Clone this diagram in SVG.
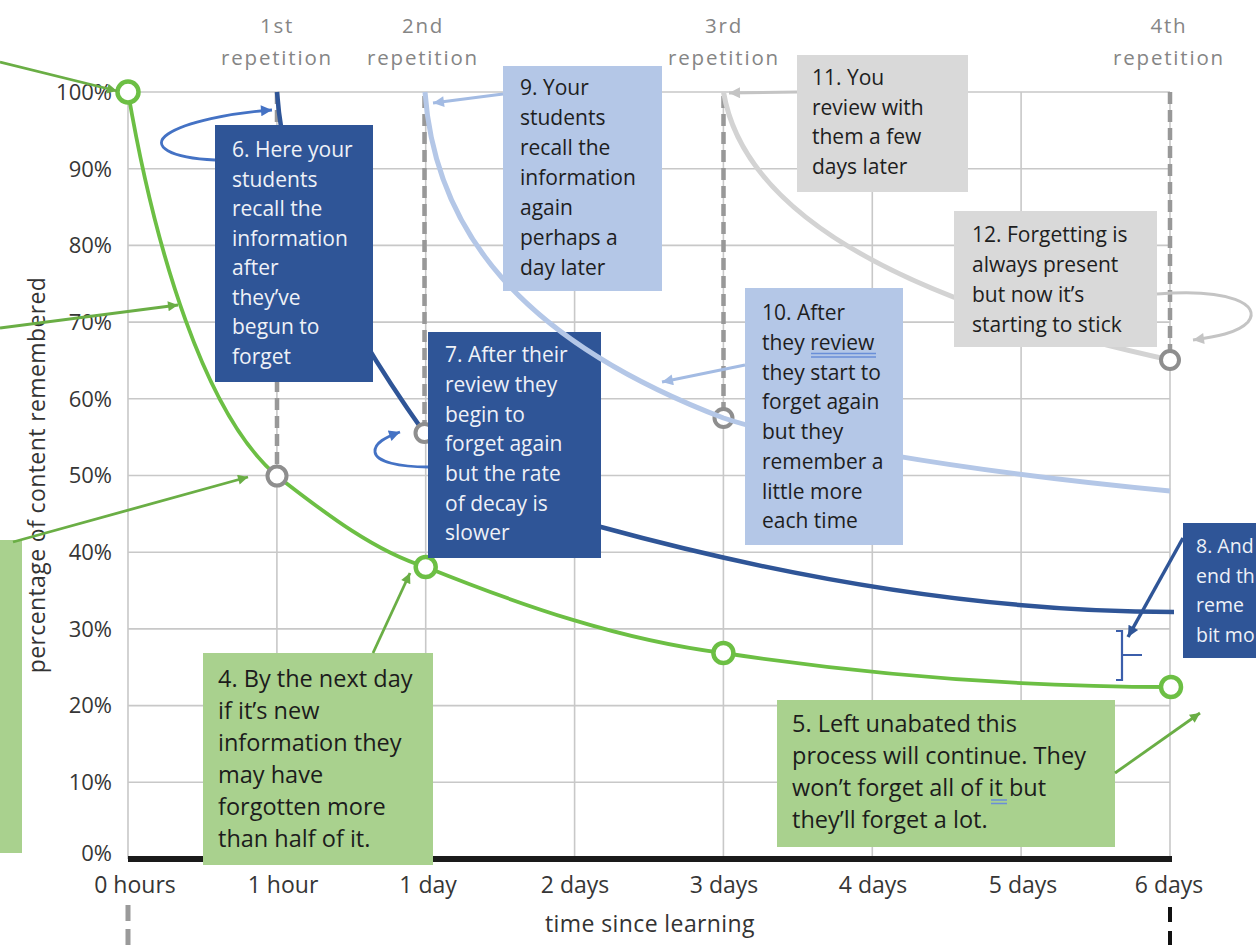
<svg xmlns="http://www.w3.org/2000/svg" width="1256" height="951" viewBox="0 0 1256 951">
<style>
.f{font-family:"Open Sans","Noto Sans","DejaVu Sans",sans-serif}
.grid{stroke:#c8c8c8;stroke-width:1.6;fill:none}
.rep{stroke:#989898;stroke-width:4.5;stroke-dasharray:12 6;fill:none}
.yl{font-size:22px;fill:#363636;text-anchor:end}
.xl{font-size:23px;fill:#363636;text-anchor:middle}
.rl{font-size:20.5px;fill:#858585;text-anchor:middle;letter-spacing:1.8px}
.ttl{font-size:23px;fill:#333;text-anchor:middle;letter-spacing:0.4px}
.bt{font-size:21px}
.bg{font-size:23.5px}
.b8{font-size:19.5px}
.dk rect{fill:#2f5597}.dk text{fill:#eef1f7}
.lb rect{fill:#b4c7e7}.lb text{fill:#1e1e1e}
.gy rect{fill:#d9d9d9}.gy text{fill:#1e1e1e}
.gn rect{fill:#a9d18e}.gn text{fill:#1c1c1c}
.cg{fill:#fff;stroke:#6cbf44;stroke-width:4.5}
.cy{fill:#fff;stroke:#8e8e8e;stroke-width:4}
.con path{fill:none}
.ag{stroke:#6aae45;stroke-width:2.8}
.ab{stroke:#4472c4;stroke-width:2.8}
.al{stroke:#a3bbe3;stroke-width:3}
.agr{stroke:#c4c4c4;stroke-width:3}
.ad{stroke:#2f5597;stroke-width:3.5}
.ul{stroke:#6a8fd8;stroke-width:1.3}
</style>
<defs>
<marker id="mg" viewBox="0 0 10 10" refX="10" refY="5" markerUnits="userSpaceOnUse" markerWidth="14" markerHeight="10" orient="auto"><path d="M0,0 L10,5 L0,10 z" fill="#6aae45"/></marker>
<marker id="mb" viewBox="0 0 10 10" refX="10" refY="5" markerUnits="userSpaceOnUse" markerWidth="14" markerHeight="11" orient="auto"><path d="M0,0 L10,5 L0,10 z" fill="#4472c4"/></marker>
<marker id="ml" viewBox="0 0 10 10" refX="10" refY="5" markerUnits="userSpaceOnUse" markerWidth="15" markerHeight="11" orient="auto"><path d="M0,0 L10,5 L0,10 z" fill="#a3bbe3"/></marker>
<marker id="mgr" viewBox="0 0 10 10" refX="10" refY="5" markerUnits="userSpaceOnUse" markerWidth="15" markerHeight="11" orient="auto"><path d="M0,0 L10,5 L0,10 z" fill="#c4c4c4"/></marker>
<marker id="md" viewBox="0 0 10 10" refX="10" refY="5" markerUnits="userSpaceOnUse" markerWidth="15" markerHeight="11" orient="auto"><path d="M0,0 L10,5 L0,10 z" fill="#2f5597"/></marker>
</defs>
<rect width="1256" height="951" fill="#fff"/>

<g id="grid" class="grid">
<path d="M128,92H1170M128,168.7H1170M128,245.4H1170M128,322.1H1170M128,398.8H1170M128,475.5H1170M128,552.2H1170M128,628.9H1170M128,705.6H1170M128,782.3H1170"/>
<path d="M128,92V859M276.9,92V859M425.7,92V859M574.6,92V859M723.4,92V859M872.3,92V859M1021.1,92V859M1170,92V859"/>
</g>

<g id="repetition-lines" class="rep">
<path d="M277,92V476M424.5,96V433M723.5,96V418M1170,92V360"/>
</g>

<g id="axis-labels" class="f">
<text class="yl" x="112" y="100">100%</text>
<text class="yl" x="112" y="177">90%</text>
<text class="yl" x="112" y="253">80%</text>
<text class="yl" x="112" y="330">70%</text>
<text class="yl" x="112" y="407">60%</text>
<text class="yl" x="112" y="483">50%</text>
<text class="yl" x="112" y="560">40%</text>
<text class="yl" x="112" y="637">30%</text>
<text class="yl" x="112" y="713">20%</text>
<text class="yl" x="112" y="790">10%</text>
<text class="yl" x="112" y="861">0%</text>
<text class="xl" x="135" y="893">0 hours</text>
<text class="xl" x="283" y="893">1 hour</text>
<text class="xl" x="428" y="893">1 day</text>
<text class="xl" x="575" y="893">2 days</text>
<text class="xl" x="724" y="893">3 days</text>
<text class="xl" x="873" y="893">4 days</text>
<text class="xl" x="1023" y="893">5 days</text>
<text class="xl" x="1169" y="893">6 days</text>
<text class="ttl" x="650" y="932">time since learning</text>
<text class="ttl" transform="translate(45,475) rotate(-90)">percentage of content remembered</text>
<text class="rl" x="277" y="33">1st</text>
<text class="rl" x="277" y="65">repetition</text>
<text class="rl" x="423" y="33">2nd</text>
<text class="rl" x="423" y="65">repetition</text>
<text class="rl" x="724" y="33">3rd</text>
<text class="rl" x="724" y="65">repetition</text>
<text class="rl" x="1169" y="33">4th</text>
<text class="rl" x="1169" y="65">repetition</text>
</g>

<g id="bottom-markers">
<path d="M128,905V945" stroke="#9a9a9a" stroke-width="5" stroke-dasharray="16 8"/>
<path d="M1170,907V945" stroke="#111" stroke-width="4" stroke-dasharray="15 9"/>
</g>

<g id="green-curve">
<path d="M128,92 C155,250 205,415 277,476 C315,505 370,550 425.7,567 C520,605 620,640 723.4,653 C850,672 1000,687 1171,687" fill="none" stroke="#6cbf44" stroke-width="3.8"/>
</g>

<g id="dark-blue-curve">
<path d="M277,92 C285,200 330,300 424.5,433 C470,470 520,500 601,527 C740,565 950,612 1174,612" fill="none" stroke="#2f5597" stroke-width="4.5"/>
</g>

<g id="markers">
<circle class="cg" cx="128" cy="92" r="10.5"/>
<circle class="cg" cx="425.7" cy="567" r="10"/>
<circle class="cg" cx="723.4" cy="653" r="10"/>
<circle class="cg" cx="1171" cy="687" r="10"/>
<circle class="cy" cx="277" cy="476" r="9.5"/>
<circle class="cy" cx="424.5" cy="433" r="9"/>
<circle class="cy" cx="723.5" cy="418" r="9"/>
</g>

<path id="x-axis" d="M128,859H1172" stroke="#1a1a1a" stroke-width="6"/>

<g id="box6" class="dk f bt">
<rect x="215" y="125" width="158" height="257"/>
<text x="232" y="157">6. Here your</text>
<text x="232" y="186.5">students</text>
<text x="232" y="216">recall the</text>
<text x="232" y="245.5">information</text>
<text x="232" y="275">after</text>
<text x="232" y="304.5">they’ve</text>
<text x="232" y="334">begun to</text>
<text x="232" y="363.5">forget</text>
</g>

<g id="box7" class="dk f bt">
<rect x="428" y="332" width="173" height="226"/>
<text x="445" y="362">7. After their</text>
<text x="445" y="392">review they</text>
<text x="445" y="421.5">begin to</text>
<text x="445" y="451">forget again</text>
<text x="445" y="481">but the rate</text>
<text x="445" y="510.5">of decay is</text>
<text x="445" y="540">slower</text>
</g>

<g id="light-blue-curve">
<path d="M425,92 C435,230 520,340 723.5,418 C790,440 950,470 1170,491" fill="none" stroke="#b4c7e7" stroke-width="5"/>
</g>

<g id="gray-curve">
<path d="M723.5,92 C740,190 850,290 1170,360" fill="none" stroke="#d3d3d3" stroke-width="5"/>
</g>
<circle id="marker-4th" class="cy" cx="1170" cy="360" r="9"/>

<g id="box9" class="lb f bt">
<rect x="503" y="66" width="159" height="225"/>
<text x="520" y="95">9. Your</text>
<text x="520" y="125">students</text>
<text x="520" y="155">recall the</text>
<text x="520" y="185">information</text>
<text x="520" y="215">again</text>
<text x="520" y="245">perhaps a</text>
<text x="520" y="275">day later</text>
</g>

<g id="box10" class="lb f bt">
<rect x="745" y="288" width="158" height="257"/>
<text x="762" y="320">10. After</text>
<text x="762" y="350">they review</text>
<text x="762" y="379.5">they start to</text>
<text x="762" y="409">forget again</text>
<text x="762" y="439">but they</text>
<text x="762" y="469">remember a</text>
<text x="762" y="498.5">little more</text>
<text x="762" y="528">each time</text>
<path class="ul" d="M811,353.5H876M811,357H876"/>
</g>

<g id="box11" class="gy f bt">
<rect x="797" y="55" width="171" height="137"/>
<text x="812" y="85">11. You</text>
<text x="812" y="114.5">review with</text>
<text x="812" y="144">them a few</text>
<text x="812" y="173.5">days later</text>
</g>

<g id="box12" class="gy f bt">
<rect x="954" y="211" width="203" height="136"/>
<text x="972" y="242">12. Forgetting is</text>
<text x="972" y="272">always present</text>
<text x="972" y="302">but now it’s</text>
<text x="972" y="332">starting to stick</text>
</g>

<g id="box8" class="dk f b8">
<rect x="1183" y="523" width="73" height="135"/>
<text x="1196" y="553">8. And</text>
<text x="1196" y="583">end th</text>
<text x="1196" y="612">reme</text>
<text x="1196" y="642">bit mo</text>
</g>

<g id="box4" class="gn f bg">
<rect x="203" y="653" width="230" height="212"/>
<text x="218" y="687">4. By the next day</text>
<text x="218" y="719">if it’s new</text>
<text x="218" y="751">information they</text>
<text x="218" y="783">may have</text>
<text x="218" y="815">forgotten more</text>
<text x="218" y="847">than half of it.</text>
</g>

<g id="box5" class="gn f bg">
<rect x="777" y="700" width="338" height="147"/>
<text x="792" y="732">5. Left unabated this</text>
<text x="792" y="764">process will continue. They</text>
<text x="792" y="796">won’t forget all of it but</text>
<text x="792" y="828">they’ll forget a lot.</text>
<path class="ul" d="M991,800H1007M991,803.5H1007"/>
</g>

<g id="box-left" class="gn">
<rect x="0" y="540" width="22" height="313"/>
</g>

<g id="connectors" class="con">
<path class="ag" d="M0,62 L117,91" marker-end="url(#mg)"/>
<path class="ag" d="M0,328 L178,305" marker-end="url(#mg)"/>
<path class="ag" d="M13,542 L248,477" marker-end="url(#mg)"/>
<path class="ag" d="M373,653 L410,573" marker-end="url(#mg)"/>
<path class="ag" d="M1115,773 L1200,713" marker-end="url(#mg)"/>
<path class="ab" d="M215,160 C170,158 150,146 168,134 C186,122 230,113 272,110" marker-end="url(#mb)"/>
<path class="ab" d="M428,467 C400,467 376,462 375,452 C374,443 386,437 400,432" marker-end="url(#mb)"/>
<path class="al" d="M503,94 L433,103" marker-end="url(#ml)"/>
<path class="al" d="M745,365 L662,382" marker-end="url(#ml)"/>
<path class="agr" d="M797,92 L729,93" marker-end="url(#mgr)"/>
<path class="agr" d="M1157,294 C1230,288 1262,305 1248,322 C1238,333 1215,337 1193,340" marker-end="url(#mgr)"/>
<path class="ad" d="M1183,538 L1128,637" marker-end="url(#md)"/>
<path d="M1116,631H1122V680H1116M1122,655H1142" stroke="#3b5eab" stroke-width="2.2"/>
</g>
</svg>
